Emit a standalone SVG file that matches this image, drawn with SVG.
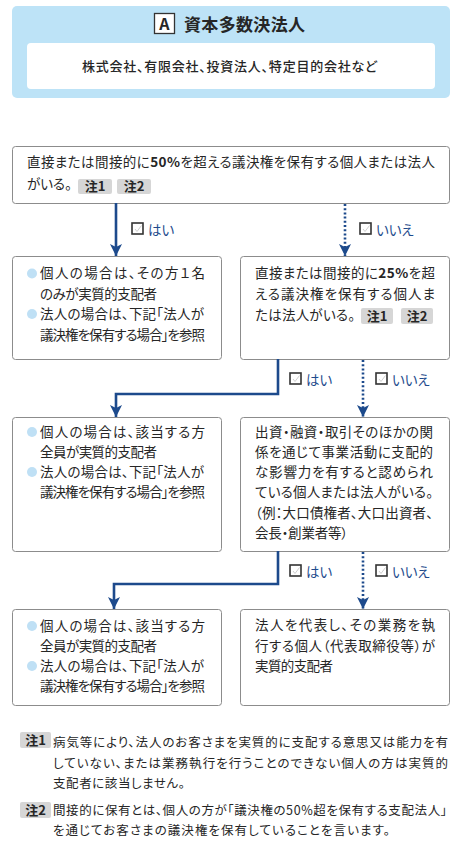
<svg xmlns="http://www.w3.org/2000/svg" width="462" height="850" viewBox="0 0 462 850">
<defs>
<style>
text{font-family:"Noto Sans CJK JP","Noto Sans",sans-serif;fill:#262626;font-feature-settings:"palt";}
.t{font-size:13.5px;}
.n{font-size:12.5px;}
.b{font-weight:bold;}
.box{fill:#fff;stroke:#8c8c8c;stroke-width:1;}
.tag{fill:#d6d6d6;}
.tagt{font-size:13px;font-weight:bold;text-anchor:middle;}
.bul{fill:#bfe0f5;}
.solid{fill:none;stroke:#1d4a8c;stroke-width:2.6;}
.dot{fill:none;stroke:#1d4a8c;stroke-width:2.6;stroke-dasharray:2 2.2;}
.cb{fill:#fff;stroke:#333;stroke-width:1.6;}
.ck{fill:none;stroke:#cfcfcf;stroke-width:1;}
.lab{font-size:13.5px;fill:#1d4a8c;}
</style>
<marker id="ah" viewBox="0 0 12 12" refX="12" refY="6" markerWidth="12" markerHeight="12" markerUnits="userSpaceOnUse" orient="auto">
<path d="M0,0 L12,6 L0,12 L3,6 Z" fill="#1d4a8c"/>
</marker>
<g id="chk"><rect class="cb" x="0" y="0" width="11" height="11"/><path class="ck" d="M3,6 L5,8.5 L9.5,2.5"/></g>
</defs>

<g id="header">
<rect x="12" y="6" width="438" height="92" rx="5" fill="#bde3f7"/>
<rect x="154.5" y="13.5" width="20" height="20" fill="#fff" stroke="#333" stroke-width="1.3"/>
<text x="164.5" y="30" font-size="16" font-weight="bold" text-anchor="middle">A</text>
<text x="184" y="31" font-size="17" font-weight="bold" textLength="121" lengthAdjust="spacing">資本多数決法人</text>
<rect x="27" y="43" width="408" height="46" rx="4" fill="#fff"/>
<text x="82" y="71" font-size="13" font-weight="500" textLength="295" lengthAdjust="spacing">株式会社、有限会社、投資法人、特定目的会社など</text>
</g>

<g id="q1">
<rect class="box" x="12.5" y="146.5" width="437" height="57" rx="3"/>
<text class="t" x="27" y="167" textLength="408" lengthAdjust="spacing">直接または間接的に<tspan class="b">50%</tspan>を超える議決権を保有する個人または法人</text>
<text class="t" x="27" y="189">がいる。</text>
<rect class="tag" x="78" y="179" width="34" height="15" rx="2"/>
<text class="tagt" x="95" y="191">注1</text>
<rect class="tag" x="117" y="179" width="34" height="15" rx="2"/>
<text class="tagt" x="134" y="191">注2</text>
</g>

<g id="r1">
<rect class="box" x="12.5" y="256.5" width="209" height="103" rx="3"/>
<circle class="bul" cx="32" cy="273.5" r="5"/>
<text class="t" x="40" y="278" textLength="165" lengthAdjust="spacing">個人の場合は、その方１名</text>
<text class="t" x="40" y="299" textLength="117" lengthAdjust="spacing">のみが実質的支配者</text>
<circle class="bul" cx="32" cy="314" r="5"/>
<text class="t" x="40" y="319" textLength="164" lengthAdjust="spacing">法人の場合は、下記「法人が</text>
<text class="t" x="40" y="340" textLength="165" lengthAdjust="spacing">議決権を保有する場合」を参照</text>
</g>

<g id="q2">
<rect class="box" x="240.5" y="256.5" width="209" height="103" rx="3"/>
<text class="t" x="255" y="278" textLength="180" lengthAdjust="spacing">直接または間接的に<tspan class="b">25%</tspan>を超</text>
<text class="t" x="255" y="299" textLength="180" lengthAdjust="spacing">える議決権を保有する個人ま</text>
<text class="t" x="255" y="320" textLength="100" lengthAdjust="spacing">たは法人がいる。</text>
<rect class="tag" x="361" y="308" width="32" height="16" rx="2"/>
<text class="tagt" x="377" y="321">注1</text>
<rect class="tag" x="401" y="308" width="32" height="16" rx="2"/>
<text class="tagt" x="417" y="321">注2</text>
</g>

<g id="r2">
<rect class="box" x="12.5" y="417.5" width="209" height="134" rx="3"/>
<circle class="bul" cx="32" cy="432" r="5"/>
<text class="t" x="40" y="437" textLength="165" lengthAdjust="spacing">個人の場合は、該当する方</text>
<text class="t" x="40" y="457" textLength="117" lengthAdjust="spacing">全員が実質的支配者</text>
<circle class="bul" cx="32" cy="472" r="5"/>
<text class="t" x="40" y="477" textLength="164" lengthAdjust="spacing">法人の場合は、下記「法人が</text>
<text class="t" x="40" y="497" textLength="165" lengthAdjust="spacing">議決権を保有する場合」を参照</text>
</g>

<g id="q3">
<rect class="box" x="240.5" y="417.5" width="209" height="134" rx="3"/>
<text class="t" x="255" y="437" textLength="178" lengthAdjust="spacing">出資・融資・取引そのほかの関</text>
<text class="t" x="255" y="457" textLength="178" lengthAdjust="spacing">係を通じて事業活動に支配的</text>
<text class="t" x="255" y="477" textLength="178" lengthAdjust="spacing">な影響力を有すると認められ</text>
<text class="t" x="255" y="497" textLength="178" lengthAdjust="spacing">ている個人または法人がいる。</text>
<text class="t" x="255" y="518" textLength="178" lengthAdjust="spacing">（例：大口債権者、大口出資者、</text>
<text class="t" x="255" y="538" textLength="93" lengthAdjust="spacing">会長・創業者等）</text>
</g>

<g id="r3">
<rect class="box" x="12.5" y="609.5" width="209" height="96" rx="3"/>
<circle class="bul" cx="32" cy="626" r="5"/>
<text class="t" x="40" y="631" textLength="165" lengthAdjust="spacing">個人の場合は、該当する方</text>
<text class="t" x="40" y="651" textLength="117" lengthAdjust="spacing">全員が実質的支配者</text>
<circle class="bul" cx="32" cy="666" r="5"/>
<text class="t" x="40" y="671" textLength="164" lengthAdjust="spacing">法人の場合は、下記「法人が</text>
<text class="t" x="40" y="691" textLength="165" lengthAdjust="spacing">議決権を保有する場合」を参照</text>
</g>

<g id="r4">
<rect class="box" x="240.5" y="609.5" width="209" height="96" rx="3"/>
<text class="t" x="255" y="630" textLength="180" lengthAdjust="spacing">法人を代表し、その業務を執</text>
<text class="t" x="255" y="651" textLength="180" lengthAdjust="spacing">行する個人（代表取締役等）が</text>
<text class="t" x="255" y="671" textLength="78" lengthAdjust="spacing">実質的支配者</text>
</g>

<g id="connectors">
<path class="solid" d="M116,203 V256" marker-end="url(#ah)"/>
<path class="dot" d="M345,204 V256" marker-end="url(#ah)"/>
<path class="solid" d="M278,359 V394 H116 V417" marker-end="url(#ah)"/>
<path class="dot" d="M363,360 V417" marker-end="url(#ah)"/>
<path class="solid" d="M278,551 V584 H114 V609" marker-end="url(#ah)"/>
<path class="dot" d="M363,552 V609" marker-end="url(#ah)"/>
<use href="#chk" x="132" y="223"/>
<text class="lab" x="148" y="235">はい</text>
<use href="#chk" x="360" y="223"/>
<text class="lab" x="376" y="235">いいえ</text>
<use href="#chk" x="290" y="373"/>
<text class="lab" x="306" y="385">はい</text>
<use href="#chk" x="376" y="373"/>
<text class="lab" x="392" y="385">いいえ</text>
<use href="#chk" x="290" y="565"/>
<text class="lab" x="306" y="577">はい</text>
<use href="#chk" x="376" y="565"/>
<text class="lab" x="392" y="577">いいえ</text>
</g>

<g id="notes">
<rect class="tag" x="20" y="732" width="31" height="16" rx="2"/>
<text class="tagt" x="35.5" y="745">注1</text>
<text class="n" x="53" y="747" textLength="395" lengthAdjust="spacing">病気等により、法人のお客さまを実質的に支配する意思又は能力を有</text>
<text class="n" x="53" y="768" textLength="395" lengthAdjust="spacing">していない、または業務執行を行うことのできない個人の方は実質的</text>
<text class="n" x="53" y="788" textLength="132" lengthAdjust="spacing">支配者に該当しません。</text>
<rect class="tag" x="20" y="802" width="31" height="16" rx="2"/>
<text class="tagt" x="35.5" y="815">注2</text>
<text class="n" x="53" y="815" textLength="394" lengthAdjust="spacing">間接的に保有とは、個人の方が「議決権の50%超を保有する支配法人」</text>
<text class="n" x="53" y="835" textLength="337" lengthAdjust="spacing">を通じてお客さまの議決権を保有していることを言います。</text>
</g>
</svg>
